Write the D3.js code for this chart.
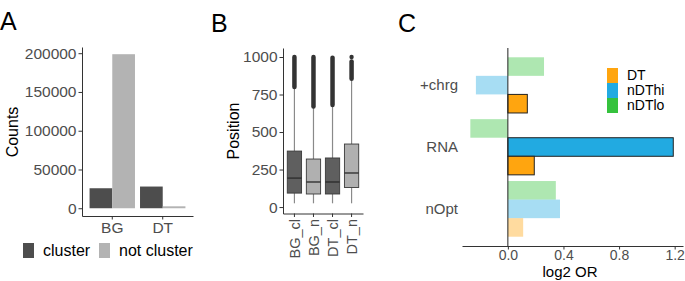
<!DOCTYPE html>
<html>
<head>
<meta charset="utf-8">
<script src="https://cdn.jsdelivr.net/npm/d3@7"></script>
<style>
  body { margin: 0; background: #fff; }
  svg { display: block; font-family: "Liberation Sans", Arial, sans-serif; }
  .tick text { fill: #4d4d4d; }
  .tick line, .domain { stroke: #333; }
</style>
</head>
<body>
<svg id="chart" width="685" height="281"></svg>
<script>
// panel A: counts
var countCats = ["BG", "DT"];
var countGroups = ["cluster", "not cluster"];
var countCluster = [25800, 28000];
var countNotCluster = [198700, 2500];
var countTicks = [0, 50000, 100000, 150000, 200000];

// panel B: position boxplots
var boxCats = ["BG_cl", "BG_n", "DT_cl", "DT_n"];
var boxLow = [25, 25, 25, 25];
var boxQ1 = [93, 87, 87, 130];
var boxMed = [193, 167, 167, 227];
var boxQ3 = [373, 320, 327, 420];
var boxHigh = [800, 670, 680, 847];
var outlierFrom = [800, 670, 680, 855];
var outlierTo = [1000, 1000, 995, 970];
var outlierSingle = [null, null, null, 1000];
var posTicks = [0, 250, 500, 750, 1000];

// panel C: log2 odds ratios
var orCats = ["+chrg", "RNA", "nOpt"];
var orGroups = ["nDTlo", "nDThi", "DT"];
var orDT = [0.14, 0.19, 0.11];
var orNDThi = [-0.23, 1.19, 0.375];
var orNDTlo = [0.26, -0.27, 0.345];
var sigDT = [true, true, false];
var sigNDThi = [false, true, false];
var sigNDTlo = [false, false, false];
var orTicks = [0, 0.4, 0.8, 1.2];

var svg = d3.select("#chart");
var grey = ["#4d4d4d", "#b3b3b3"];

function title(txt, x, y) {
    svg.append("text").attr("x", x).attr("y", y)
        .attr("font-size", 25).attr("fill", "#000").text(txt);
}

// ---------- A ----------
var ax = d3.scaleBand().domain(countCats).range([82, 193])
    .paddingInner(0.1).paddingOuter(0.15);
var axSub = d3.scaleBand().domain(countGroups).range([0, ax.bandwidth()]);
var ay = d3.scaleLinear().domain([-10000, 208000]).range([216, 47]);

var gA = svg.append("g");
gA.append("g").attr("transform", "translate(82,0)")
    .call(d3.axisLeft(ay).tickValues(countTicks).tickFormat(d3.format("d")).tickSize(3.5).tickSizeOuter(0).tickPadding(2))
    .attr("font-size", 15.5).attr("font-family", null);
gA.append("g").attr("transform", "translate(0,216)")
    .call(d3.axisBottom(ax).tickSize(3.5).tickSizeOuter(0).tickPadding(2))
    .attr("font-size", 15.5).attr("font-family", null);

var countVals = [countCluster, countNotCluster];
countGroups.forEach(function(g, gi) {
    gA.selectAll(".bar" + gi).data(countCats).enter().append("rect")
        .attr("x", function(d) { return ax(d) + axSub(g); })
        .attr("width", axSub.bandwidth())
        .attr("y", function(d, i) { return ay(countVals[gi][i]); })
        .attr("height", function(d, i) { return ay(0) - ay(countVals[gi][i]); })
        .attr("fill", grey[gi]);
});

gA.append("text").attr("transform", "translate(18,132)rotate(-90)")
    .attr("text-anchor", "middle").attr("font-size", 16).text("Counts");

var legA = gA.append("g").attr("transform", "translate(23,243)");
var legX = [0, 76];
countGroups.forEach(function(g, i) {
    legA.append("rect").attr("x", legX[i]).attr("y", 0).attr("width", 11).attr("height", 15).attr("fill", grey[i]);
    legA.append("text").attr("x", legX[i] + 20).attr("y", 13).attr("font-size", 16).text(g);
});
title("A", 0, 30);

// ---------- B ----------
var bx = d3.scaleBand().domain(boxCats).range([283, 363])
    .paddingInner(0.25).paddingOuter(0.225);
var by = d3.scaleLinear().domain([-43, 1060]).range([213.5, 48]);
var gB = svg.append("g");

gB.append("g").attr("transform", "translate(283,0)")
    .call(d3.axisLeft(by).tickValues(posTicks).tickFormat(d3.format("d")).tickSize(3.5).tickSizeOuter(0).tickPadding(2))
    .attr("font-size", 15.5).attr("font-family", null);
var bAxis = gB.append("g").attr("transform", "translate(0,213.5)")
    .call(d3.axisBottom(bx).tickSize(3.5).tickSizeOuter(0))
    .attr("font-size", 14.5).attr("font-family", null);
bAxis.selectAll(".tick text")
    .attr("transform", "rotate(-90)")
    .attr("text-anchor", "end")
    .attr("x", -5.5).attr("y", 0).attr("dy", "0.35em");

var boxFill = ["#5f5f5f", "#b0b0b0", "#5f5f5f", "#b0b0b0"];
boxCats.forEach(function(c, i) {
    var x0 = bx(c), w = bx.bandwidth(), cx = x0 + w / 2;
    var g = gB.append("g");
    g.append("line").attr("x1", cx).attr("x2", cx)
        .attr("y1", by(boxLow[i])).attr("y2", by(boxQ1[i]))
        .attr("stroke", "#8a8a8a").attr("stroke-width", 1.2);
    g.append("line").attr("x1", cx).attr("x2", cx)
        .attr("y1", by(boxQ3[i])).attr("y2", by(boxHigh[i]))
        .attr("stroke", "#8a8a8a").attr("stroke-width", 1.2);
    g.append("rect").attr("x", x0).attr("width", w)
        .attr("y", by(boxQ3[i])).attr("height", by(boxQ1[i]) - by(boxQ3[i]))
        .attr("fill", boxFill[i]).attr("stroke", "#3a3a3a").attr("stroke-width", 0.9);
    g.append("line").attr("x1", x0).attr("x2", x0 + w)
        .attr("y1", by(boxMed[i])).attr("y2", by(boxMed[i]))
        .attr("stroke", "#2a2a2a").attr("stroke-width", 1.3);
    // dense outliers drawn as a run of overlapping points
    g.append("line").attr("x1", cx).attr("x2", cx)
        .attr("y1", by(outlierFrom[i])).attr("y2", by(outlierTo[i]))
        .attr("stroke", "#333").attr("stroke-width", 4.5).attr("stroke-linecap", "round");
    if (outlierSingle[i] != null) {
        g.append("circle").attr("cx", cx).attr("cy", by(outlierSingle[i])).attr("r", 2.2).attr("fill", "#333");
    }
});

gB.append("text").attr("transform", "translate(239,131)rotate(-90)")
    .attr("text-anchor", "middle").attr("font-size", 16).text("Position");
title("B", 211, 32);

// ---------- C ----------
var cy = d3.scaleBand().domain(orCats).range([48, 246])
    .paddingInner(0.1).paddingOuter(0.15);
var cySub = d3.scaleBand().domain(orGroups).range([0, cy.bandwidth()]);
var cx = d3.scaleLinear().domain([-0.33, 1.26]).range([462, 683]);
var gC = svg.append("g");

var colors = { DT: "#FFA50F", nDThi: "#22AAE1", nDTlo: "#35C23D" };
var orVals = { DT: orDT, nDThi: orNDThi, nDTlo: orNDTlo };
var orSig = { DT: sigDT, nDThi: sigNDThi, nDTlo: sigNDTlo };

orGroups.forEach(function(g) {
    gC.selectAll(".b" + g).data(orCats).enter().append("rect")
        .attr("x", function(d, i) { return cx(Math.min(0, orVals[g][i])); })
        .attr("width", function(d, i) { return Math.abs(cx(orVals[g][i]) - cx(0)); })
        .attr("y", function(d) { return cy(d) + cySub(g); })
        .attr("height", cySub.bandwidth())
        .attr("fill", colors[g])
        .attr("fill-opacity", function(d, i) { return orSig[g][i] ? 1 : 0.4; })
        .attr("stroke", function(d, i) { return orSig[g][i] ? "#222" : "none"; })
        .attr("stroke-width", 1);
});

// zero line
gC.append("line").attr("x1", cx(0)).attr("x2", cx(0)).attr("y1", 48).attr("y2", 246)
    .attr("stroke", "#222").attr("stroke-width", 1);

gC.append("g").attr("transform", "translate(0,246)")
    .call(d3.axisBottom(cx).tickValues(orTicks).tickFormat(d3.format(".1f")).tickSize(3.5).tickSizeOuter(0).tickPadding(1))
    .attr("font-size", 14).attr("font-family", null);

gC.selectAll(".clab").data(orCats).enter().append("text")
    .attr("x", 458).attr("y", function(d) { return cy(d) + cy.bandwidth() / 2; })
    .attr("dy", "0.35em").attr("text-anchor", "end")
    .attr("font-size", 15).attr("fill", "#4d4d4d").text(function(d) { return d; });

gC.append("text").attr("x", 570).attr("y", 277).attr("text-anchor", "middle")
    .attr("font-size", 15).text("log2 OR");

var legC = gC.append("g").attr("transform", "translate(607,68)");
["DT", "nDThi", "nDTlo"].forEach(function(g, i) {
    legC.append("rect").attr("x", 0).attr("y", i * 15).attr("width", 11).attr("height", 15).attr("fill", colors[g]);
    legC.append("text").attr("x", 20).attr("y", i * 15 + 7.5).attr("dy", "0.35em")
        .attr("font-size", 14).text(g);
});
title("C", 398, 32);
</script>
</body>
</html>
